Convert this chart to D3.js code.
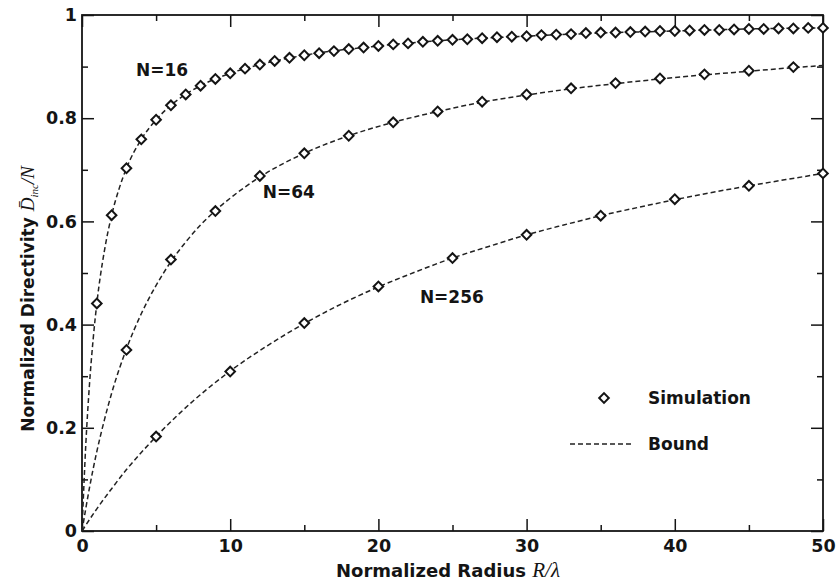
<!DOCTYPE html>
<html><head><meta charset="utf-8">
<script src="https://cdn.jsdelivr.net/npm/d3@7"></script>
<style>body{margin:0;background:#fff}svg{display:block}</style></head>
<body>
<svg id="c" width="840" height="585"></svg>
<script>
// ---- data ----
const xTickValues = [0, 10, 20, 30, 40, 50];
const xTickLabels = ["0", "10", "20", "30", "40", "50"];
const xMinorTicks = [5, 15, 25, 35, 45];
const yTickValues = [0, 0.2, 0.4, 0.6, 0.8, 1];
const yTickLabels = ["0", "0.2", "0.4", "0.6", "0.8", "1"];
const yMinorTicks = [0.1, 0.3, 0.5, 0.7, 0.9];

// Simulation (markers)
const simR16 = [1,2,3,4,5,6,7,8,9,10,11,12,13,14,15,16,17,18,19,20,21,22,23,24,25,
                26,27,28,29,30,31,32,33,34,35,36,37,38,39,40,41,42,43,44,45,46,47,48,49,50];
const sim16  = [0.441,0.612,0.703,0.759,0.797,0.825,0.846,0.863,0.876,0.887,0.896,0.904,0.911,0.917,0.922,
                0.926,0.930,0.934,0.937,0.940,0.943,0.945,0.948,0.950,0.952,0.953,0.955,0.957,0.958,0.959,
                0.961,0.962,0.963,0.965,0.966,0.966,0.967,0.968,0.969,0.969,0.970,0.971,0.971,0.972,0.973,
                0.973,0.974,0.974,0.975,0.975];
const simR64 = [3,6,9,12,15,18,21,24,27,30,33,36,39,42,45,48];
const sim64  = [0.351,0.526,0.620,0.688,0.732,0.766,0.792,0.813,0.832,0.846,0.858,0.868,0.877,0.885,0.892,0.899];
const simR256 = [5,10,15,20,25,30,35,40,45,50];
const sim256  = [0.183,0.309,0.403,0.474,0.529,0.574,0.611,0.643,0.669,0.693];

// Bound (dashed curves)
const boundR16 = [0,0.25,0.5,0.75,1,1.5,2,2.5,3,4,5,6,8,10,12,15,20,25,30,35,40,45,50];
const bound16  = [0,0.164,0.282,0.371,0.441,0.541,0.612,0.663,0.703,0.759,0.797,0.825,0.863,0.887,0.904,0.922,0.940,0.952,0.959,0.965,0.969,0.973,0.975];
const boundR64 = [0,0.5,1,1.5,2,3,4,5,6,7,8,9,10,12,15,18,21,24,27,30,33,36,39,42,45,48,50];
const bound64  = [0,0.083,0.154,0.214,0.267,0.353,0.421,0.476,0.522,0.560,0.593,0.621,0.645,0.686,0.732,0.766,0.792,0.813,0.831,0.845,0.857,0.867,0.876,0.884,0.891,0.898,0.902];
const boundR256 = [0,1,2,3,4,5,7.5,10,12.5,15,17.5,20,22.5,25,27.5,30,32.5,35,37.5,40,42.5,45,47.5,50];
const bound256  = [0,0.043,0.082,0.119,0.152,0.183,0.252,0.310,0.359,0.402,0.440,0.473,0.502,0.529,0.552,0.574,0.593,0.611,0.627,0.642,0.656,0.669,0.681,0.693];

const curveLabels = ["N=16", "N=64", "N=256"];
const legendLabels = ["Simulation", "Bound"];

// ---- layout ----
const L = 82, R = 823, T = 15, B = 531;
const ink = "#141414";
const font = "'DejaVu Sans', Verdana, sans-serif";
const serif = "'Liberation Serif', 'Times New Roman', serif";

const svg = d3.select("#c");
const x = d3.scaleLinear().domain([0, 50]).range([L, R]);
const y = d3.scaleLinear().domain([0, 1]).range([B, T]);

// frame
svg.append("rect").attr("x", L).attr("y", T).attr("width", R - L).attr("height", B - T)
  .attr("fill", "none").attr("stroke", ink).attr("stroke-width", 1.8);

function styleAxis(g) {
  g.select(".domain").remove();
  g.selectAll("line").attr("stroke", ink).attr("stroke-width", 1.5);
  g.selectAll("text").attr("fill", ink).style("font-family", font)
    .style("font-size", "17.5px").style("font-weight", "bold");
}

// bottom
svg.append("g").attr("transform", `translate(0,${B})`)
  .call(d3.axisBottom(x).tickValues(xTickValues).tickSize(-12).tickPadding(9)
        .tickFormat((d, i) => xTickLabels[i])).call(styleAxis);
svg.append("g").attr("transform", `translate(0,${B})`)
  .call(d3.axisBottom(x).tickValues(xMinorTicks).tickSize(-6).tickFormat("")).call(styleAxis);
// top
svg.append("g").attr("transform", `translate(0,${T})`)
  .call(d3.axisTop(x).tickValues(xTickValues).tickSize(-12).tickFormat("")).call(styleAxis);
svg.append("g").attr("transform", `translate(0,${T})`)
  .call(d3.axisTop(x).tickValues(xMinorTicks).tickSize(-6).tickFormat("")).call(styleAxis);
// left
svg.append("g").attr("transform", `translate(${L},0)`)
  .call(d3.axisLeft(y).tickValues(yTickValues).tickSize(-12).tickPadding(5)
        .tickFormat((d, i) => yTickLabels[i])).call(styleAxis);
svg.append("g").attr("transform", `translate(${L},0)`)
  .call(d3.axisLeft(y).tickValues(yMinorTicks).tickSize(-6).tickFormat("")).call(styleAxis);
// right
svg.append("g").attr("transform", `translate(${R},0)`)
  .call(d3.axisRight(y).tickValues(yTickValues).tickSize(-12).tickFormat("")).call(styleAxis);
svg.append("g").attr("transform", `translate(${R},0)`)
  .call(d3.axisRight(y).tickValues(yMinorTicks).tickSize(-6).tickFormat("")).call(styleAxis);

// bound lines
const line = d3.line().x(d => x(d[0])).y(d => y(d[1])).curve(d3.curveMonotoneX);
const bounds = [[boundR16, bound16], [boundR64, bound64], [boundR256, bound256]];
bounds.forEach(([rs, vs]) => {
  svg.append("path").datum(rs.map((r, i) => [r, vs[i]]))
    .attr("d", line).attr("fill", "none").attr("stroke", "#222")
    .attr("stroke-width", 1.5).attr("stroke-dasharray", "5,3");
});

// simulation markers
const diamond = d3.symbol().type(d3.symbolSquare).size(46);
const sims = [[simR16, sim16], [simR64, sim64], [simR256, sim256]];
sims.forEach(([rs, vs]) => {
  svg.append("g").selectAll("path").data(rs.map((r, i) => [r, vs[i]])).join("path")
    .attr("d", diamond())
    .attr("transform", d => `translate(${x(d[0])},${y(d[1])}) rotate(45)`)
    .attr("fill", "#fff").attr("stroke", ink).attr("stroke-width", 2);
});

// curve labels
const labelPos = [[3.64, 0.882], [12.2, 0.645], [22.8, 0.442]];
curveLabels.forEach((t, i) => {
  svg.append("text").attr("x", x(labelPos[i][0])).attr("y", y(labelPos[i][1]))
    .attr("fill", ink).style("font-family", font).style("font-size", "17px")
    .style("font-weight", "bold").text(t);
});

// legend
const lg = svg.append("g");
lg.append("path").attr("d", diamond())
  .attr("transform", `translate(604,398) rotate(45)`)
  .attr("fill", "#fff").attr("stroke", ink).attr("stroke-width", 2);
lg.append("line").attr("x1", 570).attr("x2", 634).attr("y1", 444).attr("y2", 444)
  .attr("stroke", "#222").attr("stroke-width", 1.4).attr("stroke-dasharray", "5,3");
legendLabels.forEach((t, i) => {
  lg.append("text").attr("x", 648).attr("y", 398 + i * 46).attr("dy", "0.36em")
    .attr("fill", ink).style("font-family", font).style("font-size", "17px")
    .style("font-weight", "bold").text(t);
});

// x axis title
const xt = svg.append("text").attr("x", 448).attr("y", 577).attr("text-anchor", "middle")
  .attr("fill", ink).style("font-family", font).style("font-size", "18px").style("font-weight", "bold");
xt.append("tspan").text("Normalized Radius  ");
xt.append("tspan").style("font-family", serif)
  .style("font-style", "italic").style("font-weight", "normal").style("font-size", "21px").text("R/λ");

// y axis title
const yt = svg.append("text").attr("transform", "translate(34,299) rotate(-90)")
  .attr("text-anchor", "middle")
  .attr("fill", ink).style("font-family", font).style("font-size", "17px").style("font-weight", "bold");
yt.append("tspan").text("Normalized Directivity  ");
yt.append("tspan").style("font-family", serif)
  .style("font-style", "italic").style("font-weight", "normal").style("font-size", "19px").text("D\u0304");
yt.append("tspan").attr("dy", "4").style("font-family", serif)
  .style("font-style", "italic").style("font-weight", "normal").style("font-size", "11px").text("inc");
yt.append("tspan").attr("dy", "-4").style("font-family", serif)
  .style("font-style", "italic").style("font-weight", "normal").style("font-size", "19px").text("/N");
</script>
</body></html>
